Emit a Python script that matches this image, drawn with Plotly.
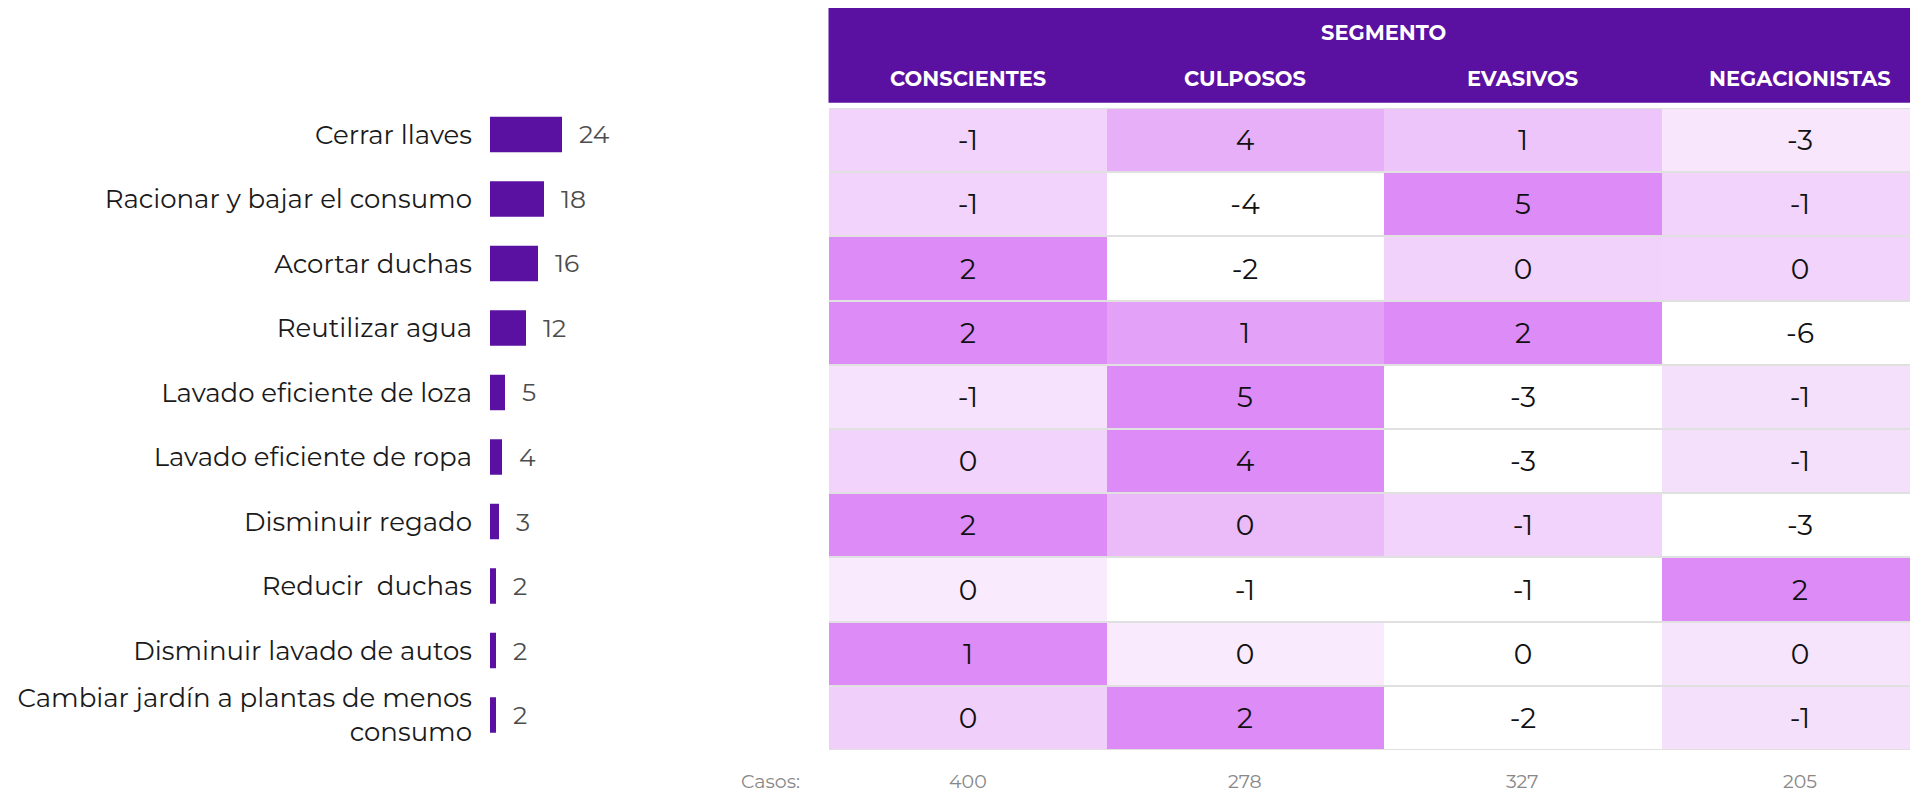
import plotly.graph_objects as go

# ---------------- data ----------------
acciones = [
    "Cerrar llaves",
    "Racionar y bajar el consumo",
    "Acortar duchas",
    "Reutilizar agua",
    "Lavado eficiente de loza",
    "Lavado eficiente de ropa",
    "Disminuir regado",
    "Reducir\u00a0 duchas",
    "Disminuir lavado de autos",
    "Cambiar jardín a plantas de menos<br>consumo",
]
porcentajes = [24, 18, 16, 12, 5, 4, 3, 2, 2, 2]

segmentos = ["CONSCIENTES", "CULPOSOS", "EVASIVOS", "NEGACIONISTAS"]
diferencias = [
    [-1, 4, 1, -3],
    [-1, -4, 5, -1],
    [2, -2, 0, 0],
    [2, 1, 2, -6],
    [-1, 5, -3, -1],
    [0, 4, -3, -1],
    [2, 0, -1, -3],
    [0, -1, -1, 2],
    [1, 0, 0, 0],
    [0, 2, -2, -1],
]
# shading level of each cell (0 = white ... 5 = strongest)
intensidad = [
    [2.0, 3.8, 3.0, 1.0],
    [2.0, 0.0, 5.0, 2.0],
    [5.0, 0.0, 2.1, 2.0],
    [5.0, 4.3, 5.0, 0.0],
    [1.2, 5.0, 0.0, 1.3],
    [2.0, 5.0, 0.0, 1.3],
    [5.0, 3.4, 2.0, 0.0],
    [0.8, 0.0, 0.0, 5.0],
    [5.0, 0.8, 0.0, 1.1],
    [2.2, 5.0, 0.0, 1.3],
]
casos = [400, 278, 327, 205]

# ---------------- styles ----------------
FONT = "Montserrat, Open Sans, sans-serif"
PURPLE = "#5a10a0"
OFF = 8                     # page body margin
W, H = 1918 - OFF, 794 - OFF

def py(page_y):
    return 1 - (page_y - OFF) / H

def pxx(page_x):
    return (page_x - OFF) / W

fig = go.Figure()

fig.add_trace(go.Bar(
    x=porcentajes, y=acciones, orientation="h",
    marker=dict(color=PURPLE, line=dict(width=0)),
    width=0.55, xaxis="x", yaxis="y", hoverinfo="skip",
))

fig.add_trace(go.Heatmap(
    z=intensidad, x=segmentos, y=acciones,
    text=diferencias, texttemplate="%{text}",
    textfont=dict(family=FONT, size=28, color="#111111"),
    colorscale=[
        [0.0, "#ffffff"], [0.2, "#f7e6fc"], [0.4, "#f1d3fb"],
        [0.6, "#edc5fa"], [0.8, "#e6aaf8"], [1.0, "#dc8bf7"],
    ],
    zmin=0, zmax=5, showscale=False, ygap=2, xgap=0,
    xaxis="x2", yaxis="y2", hoverinfo="skip",
))

annotations = []
for v, a in zip(porcentajes, acciones):
    annotations.append(dict(
        x=v, y=a, xref="x", yref="y", text=str(v), showarrow=False,
        xanchor="left", yanchor="middle", xshift=15,
        font=dict(family=FONT, size=25, color="#4d4d4d"),
    ))

annotations.append(dict(
    x=pxx((829 + 1937) / 2), y=py(32), xref="paper", yref="paper",
    text="<b>SEGMENTO</b>", showarrow=False, xanchor="center", yanchor="middle",
    font=dict(family=FONT, size=21, color="white"),
))
for s in segmentos:
    annotations.append(dict(
        x=s, y=py(79), xref="x2", yref="paper", text=f"<b>{s}</b>",
        showarrow=False, xanchor="center", yanchor="middle",
        font=dict(family=FONT, size=21, color="white"),
    ))

annotations.append(dict(
    x=pxx(801), y=py(781), xref="paper", yref="paper", text="Casos:",
    showarrow=False, xanchor="right", yanchor="middle", borderpad=0,
    font=dict(family=FONT, size=19, color="#888888"),
))
for s, c in zip(segmentos, casos):
    annotations.append(dict(
        x=s, y=py(781), xref="x2", yref="paper", text=str(c),
        showarrow=False, xanchor="center", yanchor="middle", borderpad=0,
        font=dict(family=FONT, size=19, color="#888888"),
    ))

shapes = [
    dict(type="rect", xref="paper", yref="paper",
         x0=pxx(828.5), x1=1, y0=py(102.7), y1=py(7.7),
         fillcolor=PURPLE, line=dict(width=0), layer="below"),
    dict(type="rect", xref="x2 domain", yref="y2 domain",
         x0=0, x1=1, y0=0, y1=1,
         fillcolor="#e0e0e0", line=dict(width=0), layer="below"),
]

fig.update_layout(
    width=W, height=H,
    margin=dict(l=0, r=0, t=0, b=0),
    paper_bgcolor="white", plot_bgcolor="rgba(0,0,0,0)",
    showlegend=False,
    font=dict(family=FONT),
    xaxis=dict(domain=[pxx(490), pxx(790)], range=[0, 100], visible=False,
               fixedrange=True),
    yaxis=dict(domain=[py(747.25), py(102.25)], type="category",
               autorange="reversed", showgrid=False, zeroline=False,
               showline=False, ticks="", ticklabelstandoff=17,
               tickfont=dict(family=FONT, size=26, color="#1a1a1a")),
    xaxis2=dict(domain=[pxx(829), 1], range=[-0.5, 3.424], visible=False,
                type="category", fixedrange=True),
    yaxis2=dict(domain=[py(750), py(108)], type="category",
                autorange="reversed", visible=False),
    annotations=annotations,
    shapes=shapes,
)

fig.write_html("out.html")
